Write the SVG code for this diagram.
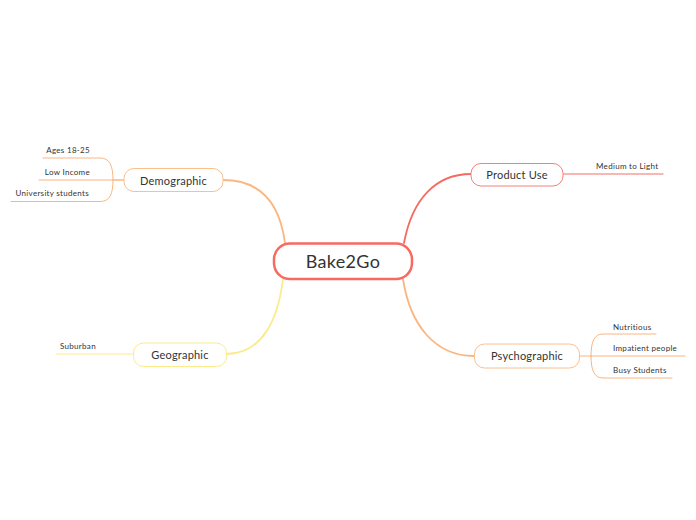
<svg xmlns="http://www.w3.org/2000/svg" width="696" height="520" viewBox="0 0 696 520">
<style>
.bg{fill:#ffffff}
.node{fill:#ffffff}
.t{font-family:Lato,"Noto Sans",sans-serif;fill:#333333}
.main{font-size:18px;text-anchor:middle;letter-spacing:0.3px}
.sub{font-size:11px;text-anchor:middle;letter-spacing:0.2px}
.leaf{font-size:8px;letter-spacing:0.3px}
.c{fill:none;stroke-linecap:round}
.red{stroke:#f66a60}
.redl{stroke:#f8a09a}
.org{stroke:#fbb680}
.yel{stroke:#fbeb8a}
</style>
<rect class="bg" x="0" y="0" width="696" height="520"/>
<g id="connectors">
  <path class="c red" stroke-width="1.8" d="M404,243 C412,200 435,174 471,174"/>
  <path class="c org" stroke-width="1.8" d="M285,243 C280,205 262,180 223,180"/>
  <path class="c org" stroke-width="1.8" d="M403,279 C410,325 435,356 474,356"/>
  <path class="c yel" stroke-width="1.8" d="M283,279 C278,320 262,354 226,354"/>
  <path class="c redl" stroke-width="1.5" d="M563,174 L663,174"/>
  <path class="c org" stroke-width="1" d="M124,180 L113,180 M113,180 C113,166 110,158 100,158 L43,158 M124,180 L39,180 M113,180 C113,194 110,201.5 100,201.5 L11,201.5"/>
  <path class="c yel" stroke-width="1" d="M133,354 L56,354"/>
  <path class="c org" stroke-width="1" d="M579,356 L591,356 M591,356 C591,342 594,334 603,334 L656,334 M591,356 L685,356 M591,356 C591,370 594,378 603,378 L672,378"/>
</g>
<g id="node-center">
  <rect class="node" x="274" y="243.5" width="138" height="35.5" rx="16" stroke="#f66a60" stroke-width="2.5"/>
  <text class="t main" x="343" y="268">Bake2Go</text>
</g>
<g id="node-demographic">
  <rect class="node" x="124" y="168.5" width="99" height="23" rx="10" stroke="#fbc08e" stroke-width="1"/>
  <text class="t sub" x="173.5" y="184.5">Demographic</text>
</g>
<g id="node-productuse">
  <rect class="node" x="471" y="163.5" width="92" height="22.5" rx="10" stroke="#f6807a" stroke-width="1"/>
  <text class="t sub" x="517" y="179">Product Use</text>
</g>
<g id="node-psychographic">
  <rect class="node" x="474.5" y="344" width="105" height="24" rx="10" stroke="#fbc08e" stroke-width="1"/>
  <text class="t sub" x="527" y="360">Psychographic</text>
</g>
<g id="node-geographic">
  <rect class="node" x="133.5" y="343" width="93" height="23.5" rx="10" stroke="#fbeb8a" stroke-width="1"/>
  <text class="t sub" x="180" y="358.5">Geographic</text>
</g>
<g id="leaf-ages"><text class="t leaf" x="90" y="153" text-anchor="end">Ages 18-25</text></g>
<g id="leaf-lowincome"><text class="t leaf" x="90" y="175" text-anchor="end">Low Income</text></g>
<g id="leaf-university"><text class="t leaf" x="89" y="196" text-anchor="end">University students</text></g>
<g id="leaf-medium"><text class="t leaf" x="596" y="169">Medium to Light</text></g>
<g id="leaf-nutritious"><text class="t leaf" x="613" y="330">Nutritious</text></g>
<g id="leaf-impatient"><text class="t leaf" x="613" y="351">Impatient people</text></g>
<g id="leaf-busy"><text class="t leaf" x="613" y="373">Busy Students</text></g>
<g id="leaf-suburban"><text class="t leaf" x="60" y="349">Suburban</text></g>
</svg>
